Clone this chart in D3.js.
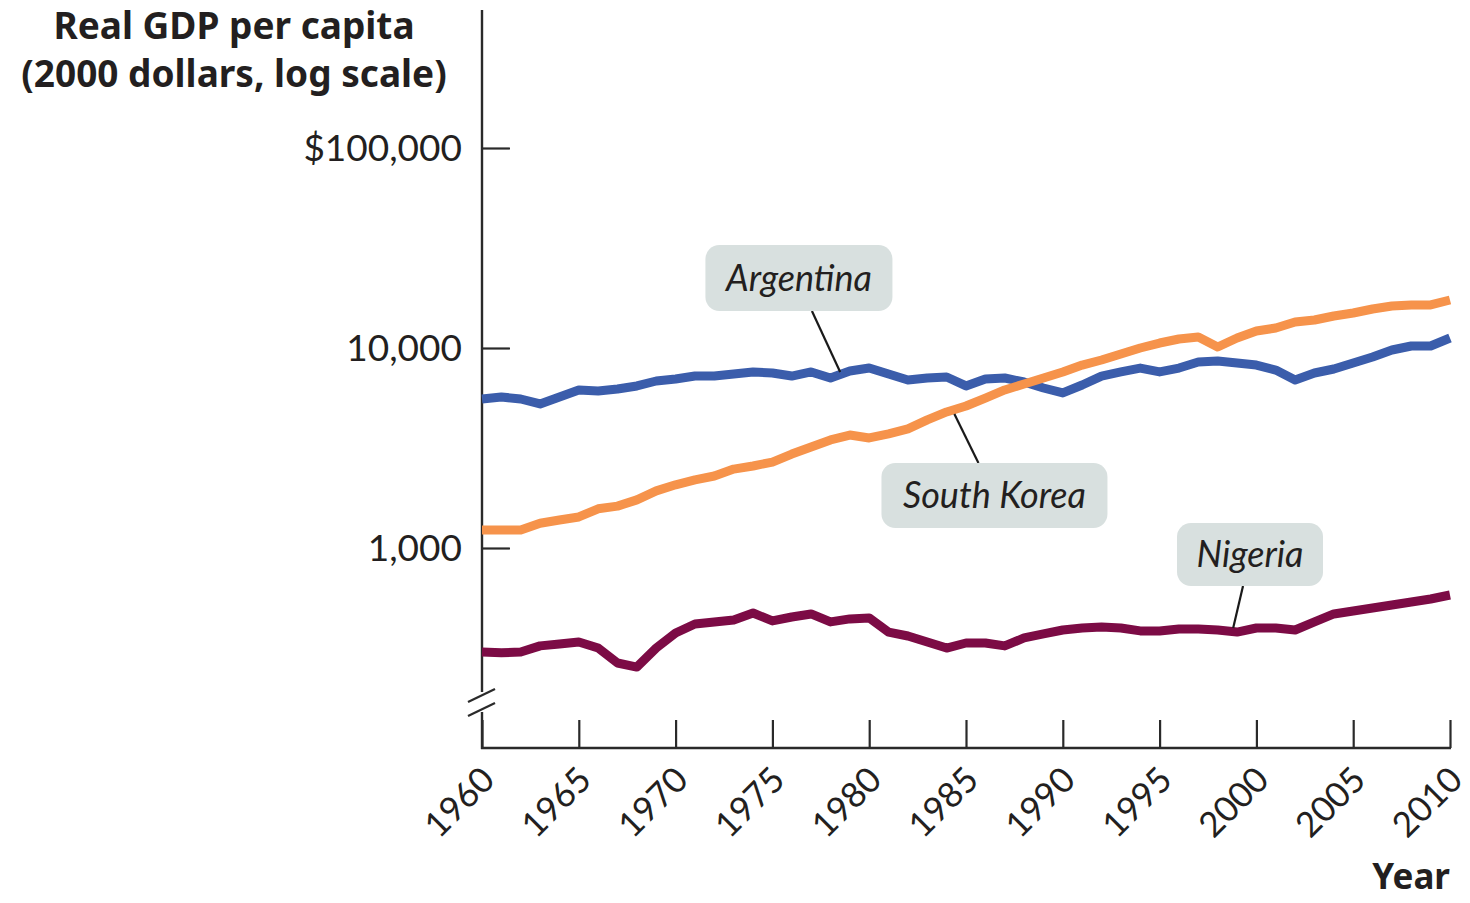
<!DOCTYPE html>
<html>
<head>
<meta charset="utf-8">
<script src="https://cdn.jsdelivr.net/npm/d3@7"></script>
<style>
  html, body { margin: 0; padding: 0; background: #ffffff; }
  svg { display: block; }
</style>
</head>
<body>
<svg id="chart" width="1470" height="903"></svg>
<script>
// ---------- DATA ----------
const years = d3.range(1960, 2011);

const argentina = [5560, 5690, 5560, 5250, 5690, 6170, 6100, 6240, 6460, 6840,
                   7000, 7240, 7240, 7410, 7590, 7500, 7240, 7590, 7080, 7670,
                   7940, 7410, 6920, 7080, 7160, 6460, 7000, 7080, 6760, 6310,
                   5960, 6530, 7240, 7590, 7940, 7590, 7940, 8510, 8610, 8410,
                   8220, 7760, 6920, 7500, 7850, 8410, 9020, 9770, 10230, 10230,
                   11220];

const southKorea = [1230, 1230, 1230, 1330, 1380, 1430, 1570, 1620, 1740, 1930,
                    2070, 2190, 2290, 2480, 2570, 2690, 2950, 3200, 3470, 3670,
                    3550, 3720, 3940, 4370, 4790, 5130, 5620, 6170, 6610, 7080,
                    7590, 8220, 8710, 9330, 10000, 10590, 11090, 11350, 10120, 11220,
                    12160, 12590, 13490, 13800, 14450, 14960, 15670, 16220, 16410, 16410,
                    17380];

const nigeria = [302, 299, 302, 324, 331, 339, 316, 266, 254, 316,
                 376, 417, 427, 437, 473, 432, 452, 468, 427, 442,
                 447, 380, 363, 339, 316, 335, 335, 324, 355, 372,
                 389, 398, 403, 398, 385, 385, 394, 394, 389, 380,
                 398, 398, 389, 427, 468, 484, 501, 519, 537, 556,
                 582];

const seriesNames = ["Argentina", "South Korea", "Nigeria"];
const seriesColors = ["#3b5dab", "#f6934b", "#7c0b45"];

const xTickValues = d3.range(1960, 2011, 5);
const yTickValues = [1000, 10000, 100000];
const yTickLabels = ["1,000", "10,000", "$100,000"];

const titleLines = ["Real GDP per capita", "(2000 dollars, log scale)"];
const xTitle = "Year";

// annotation anchors in data space: box centre (year, value) and pointed-at point (year, value)
const annotations = [
  { label: "Argentina",   boxYear: 1976.37, boxValue: 22390, ptYear: 1978.5, ptValue: 7590, w: 187, h: 66, dx: 13,  side: "bottom" },
  { label: "South Korea", boxYear: 1986.47, boxValue: 1830,  ptYear: 1984.4, ptValue: 4680, w: 226, h: 65, dx: -16, side: "top" },
  { label: "Nigeria",     boxYear: 1999.67, boxValue: 928,   ptYear: 1998.8, ptValue: 398,  w: 146, h: 63, dx: -7,  side: "bottom" }
];

// ---------- LAYOUT ----------
const svg = d3.select("#chart");
const x0 = 482, x1 = 1450;
const yBase = 748;
const bodyFont = "Lato, 'Noto Sans', sans-serif";
const boldFont = "'Noto Sans', Lato, sans-serif";
const textColor = "#231f20";

const x = d3.scaleLinear().domain([1960, 2010]).range([x0, x1]);
const y = d3.scaleLog().domain([1000, 100000]).range([548, 148]);

const axisColor = "#2a2a2a";

// ---------- Y AXIS (ticks + labels) ----------
const yAxis = d3.axisLeft(y)
  .tickValues(yTickValues)
  .tickSizeInner(-28)
  .tickSizeOuter(0)
  .tickPadding(20)
  .tickFormat((d, i) => yTickLabels[i]);

const gy = svg.append("g").attr("transform", `translate(${x0},0)`).call(yAxis);
gy.select(".domain").remove();
gy.selectAll(".tick line").attr("stroke", axisColor).attr("stroke-width", 2.2);
gy.selectAll(".tick text")
  .style("font-family", bodyFont)
  .style("font-size", "37px")
  .attr("fill", textColor)
  .attr("dy", "0.34em");

// ---------- X AXIS ----------
const xAxis = d3.axisBottom(x)
  .tickValues(xTickValues)
  .tickSizeInner(-28)
  .tickSizeOuter(0)
  .tickFormat(d3.format("d"));

const gx = svg.append("g").attr("transform", `translate(0,${yBase})`).call(xAxis);
gx.select(".domain").remove();
gx.selectAll(".tick line").attr("stroke", axisColor).attr("stroke-width", 2.2);
gx.selectAll(".tick text")
  .style("font-family", bodyFont)
  .style("font-size", "35px")
  .attr("fill", textColor)
  .attr("text-anchor", "end")
  .attr("y", 0)
  .attr("dy", 0)
  .attr("transform", "translate(14,34) rotate(-45)");

// axis lines (vertical with break, horizontal baseline)
svg.append("line")
  .attr("x1", x0).attr("x2", x0).attr("y1", 10).attr("y2", 692)
  .attr("stroke", axisColor).attr("stroke-width", 2.4);
svg.append("line")
  .attr("x1", x0).attr("x2", x0).attr("y1", 712).attr("y2", yBase + 1)
  .attr("stroke", axisColor).attr("stroke-width", 2.4);
svg.append("line")
  .attr("x1", x0 - 1).attr("x2", x1 + 1).attr("y1", yBase).attr("y2", yBase)
  .attr("stroke", axisColor).attr("stroke-width", 2.4);
// break marks
[[702, 689], [716, 703]].forEach(([ya, yb]) => {
  svg.append("line")
    .attr("x1", x0 - 14).attr("y1", ya).attr("x2", x0 + 13).attr("y2", yb)
    .attr("stroke", axisColor).attr("stroke-width", 2.2);
});

// ---------- SERIES ----------
const line = d3.line()
  .x((d, i) => x(years[i]))
  .y(d => y(d))
  .curve(d3.curveLinear);

[argentina, southKorea, nigeria].forEach((vals, k) => {
  svg.append("path")
    .datum(vals)
    .attr("fill", "none")
    .attr("stroke", seriesColors[k])
    .attr("stroke-width", 9)
    .attr("stroke-linejoin", "round")
    .attr("stroke-linecap", "butt")
    .attr("d", line);
});

// ---------- ANNOTATIONS ----------
annotations.forEach(a => {
  const cx = x(a.boxYear), cy = y(a.boxValue);
  const px = x(a.ptYear), py = y(a.ptValue);
  const sx = cx + a.dx;
  const sy = a.side === "bottom" ? cy + a.h / 2 : cy - a.h / 2;
  svg.append("line")
    .attr("x1", sx).attr("y1", sy).attr("x2", px).attr("y2", py)
    .attr("stroke", "#1a1a1a").attr("stroke-width", 2.2);
  svg.append("rect")
    .attr("x", cx - a.w / 2).attr("y", cy - a.h / 2)
    .attr("width", a.w).attr("height", a.h)
    .attr("rx", 14).attr("ry", 14)
    .attr("fill", "#d8e0df");
  svg.append("text")
    .attr("x", cx).attr("y", cy)
    .attr("dy", "0.36em")
    .attr("text-anchor", "middle")
    .style("font-family", bodyFont)
    .style("font-style", "italic")
    .style("font-size", "36px")
    .attr("fill", textColor)
    .text(a.label);
});

// ---------- TITLES ----------
svg.append("text")
  .attr("text-anchor", "middle")
  .style("font-family", boldFont)
  .style("font-weight", 700)
  .style("font-size", "37px")
  .attr("fill", textColor)
  .selectAll("tspan")
  .data(titleLines)
  .join("tspan")
  .attr("x", 234)
  .attr("y", (d, i) => 39 + i * 48)
  .text(d => d);

svg.append("text")
  .attr("x", 1450).attr("y", 889)
  .attr("text-anchor", "end")
  .style("font-family", boldFont)
  .style("font-weight", 700)
  .style("font-size", "35px")
  .attr("fill", textColor)
  .text(xTitle);
</script>
</body>
</html>
